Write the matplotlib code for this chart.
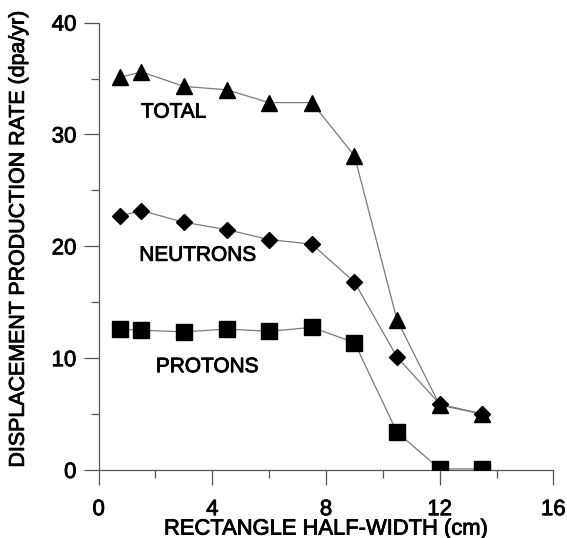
import matplotlib
matplotlib.use("Agg")
import matplotlib.pyplot as plt
import matplotlib.patheffects as pe
from matplotlib.ticker import MultipleLocator

plt.rcParams['font.family'] = ['Liberation Sans', 'DejaVu Sans']

half_width = [0.75, 1.5, 3.0, 4.5, 6.0, 7.5, 9.0, 10.5, 12.0, 13.5]
total = [35.1, 35.6, 34.3, 34.0, 32.85, 32.85, 28.1, 13.4, 5.8, 5.0]
neutrons = [22.7, 23.2, 22.15, 21.5, 20.6, 20.2, 16.8, 10.1, 5.9, 5.0]
protons = [12.6, 12.5, 12.35, 12.6, 12.4, 12.75, 11.4, 3.37, 0.1, 0.1]

series_labels = ["TOTAL", "NEUTRONS", "PROTONS"]
label_pos = [(2.64, 32.0), (3.5, 19.2), (3.83, 9.24)]

x_ticks = [0, 4, 8, 12, 16]
y_ticks = [0, 10, 20, 30, 40]

thick = [pe.withStroke(linewidth=0.6, foreground='black')]

fig = plt.figure(figsize=(5.67, 5.38), dpi=100)
ax = fig.add_axes([0.174, 0.1264, 0.802, 0.8315])

line_color = '#7a7a7a'
ax.plot(half_width, total, color=line_color, lw=0.9, marker='^', ms=11,
        mfc='black', mec='black', zorder=3)
ax.plot(half_width, neutrons, color=line_color, lw=0.9, marker='D', ms=7.8,
        mfc='black', mec='black', zorder=3)
ax.plot(half_width, protons, color=line_color, lw=0.9, marker='s', ms=11,
        mfc='black', mec='black', zorder=3)

for lab, (lx, ly) in zip(series_labels, label_pos):
    ax.text(lx, ly, lab, fontsize=15, ha='center', va='center', color='black',
            path_effects=thick)

ax.set_xlim(0, 16)
ax.set_ylim(0, 40)
ax.set_xticks(x_ticks)
ax.set_yticks(y_ticks)
ax.xaxis.set_minor_locator(MultipleLocator(2))
ax.yaxis.set_minor_locator(MultipleLocator(5))

for s in ['top', 'right']:
    ax.spines[s].set_visible(False)
for s in ['left', 'bottom']:
    ax.spines[s].set_color('#555555')
    ax.spines[s].set_linewidth(0.9)

ax.tick_params(axis='both', which='major', length=11, width=0.9, color='#555555',
               labelsize=16, direction='out')
ax.tick_params(axis='both', which='minor', length=5.5, width=0.9, color='#555555',
               direction='out')
ax.tick_params(axis='x', which='major', pad=10)
ax.tick_params(axis='y', which='major', pad=5)
for t in ax.get_xticklabels() + ax.get_yticklabels():
    t.set_path_effects(thick)

ax.set_xlabel("RECTANGLE HALF-WIDTH (cm)", fontsize=15.8, va='center',
              path_effects=thick)
ax.set_ylabel("DISPLACEMENT PRODUCTION RATE (dpa/yr)", fontsize=15.4, va='center',
              path_effects=thick)
ax.xaxis.set_label_coords(0.5, -0.132)
ax.yaxis.set_label_coords(-0.1767, 0.516)

fig.savefig("out.png", dpi=100)
